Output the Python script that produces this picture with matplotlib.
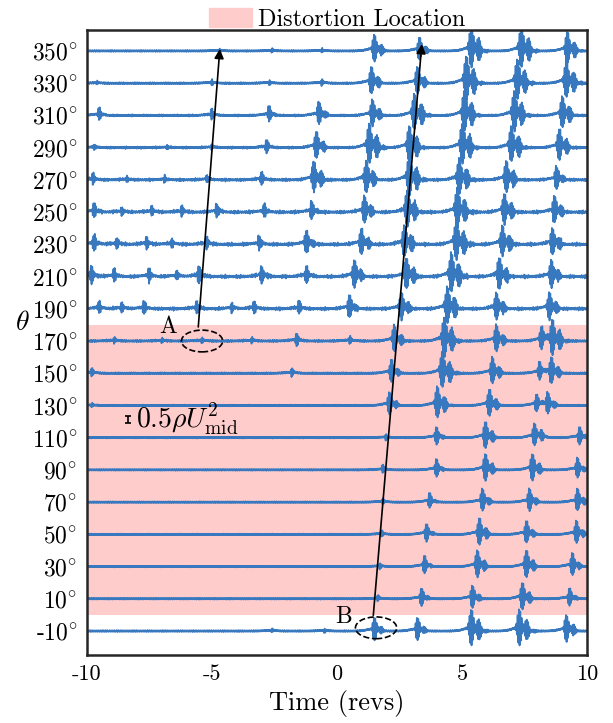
import numpy as np
import matplotlib
matplotlib.use('Agg')
import matplotlib.pyplot as plt
from matplotlib.patches import Ellipse, Patch

plt.rcParams['font.family'] = ['cmr10', 'DejaVu Serif']
plt.rcParams['mathtext.fontset'] = 'cm'
plt.rcParams['axes.unicode_minus'] = False

# sensor angles (deg) and burst events: (time in revs, half amplitude in deg units)
theta = [-10, 10, 30, 50, 70, 90, 110, 130, 150, 170, 190, 210, 230, 250, 270, 290, 310, 330, 350]

events_t = [
    [-2.6, -0.5, 1.52, 3.24, 5.4, 7.32, 9.2],
    [1.64, 3.4, 5.44, 7.44, 9.32],
    [1.72, 3.52, 5.64, 7.6, 9.44],
    [1.8, 3.6, 5.72, 7.6, 9.6],
    [1.84, 3.72, 5.84, 7.72, 9.64],
    [1.84, 4.0, 5.96, 7.84, 9.64],
    [1.96, 4.0, 5.96, 7.92, 8.2, 9.72],
    [-9.8, 2.12, 4.04, 6.12, 8.0, 8.45],
    [-9.8, -1.8, 2.2, 4.24, 6.24, 8.12, 8.6],
    [-8.9, -7.0, -5.4, -3.4, -1.6, 0.52, 2.32, 4.32, 6.4, 8.2, 8.64],
    [-9.5, -8.6, -7.7, -5.6, -4.2, -3.3, -1.5, 0.52, 2.6, 4.44, 6.4, 8.52],
    [-9.8, -8.9, -7.5, -6.4, -5.5, -3.0, -1.2, 0.72, 2.8, 4.6, 6.52, 8.6],
    [-9.7, -8.8, -7.6, -6.6, -5.2, -3.1, -1.2, 1.0, 2.72, 4.8, 6.64, 8.64],
    [-9.7, -8.6, -7.4, -6.2, -4.8, -2.9, -1.0, 1.12, 2.84, 4.84, 6.72, 8.72],
    [-9.75, -8.4, -6.9, -5.2, -3.0, -0.9, 1.2, 2.92, 4.92, 6.8, 8.8],
    [-9.7, -6.8, -5.0, -2.8, -0.8, 1.32, 2.92, 5.04, 7.0, 8.92],
    [-9.5, -5.0, -2.7, -0.7, 1.44, 3.12, 5.12, 7.12, 9.04],
    [-9.6, -5.0, -2.7, -0.6, 1.4, 3.24, 5.2, 7.24, 9.2],
    [-4.7, -2.6, -0.6, 1.52, 3.32, 5.4, 7.4, 9.24],
]

events_a = [
    [1, 1, 5, 5, 8, 8, 6],
    [1.5, 4, 5, 6, 4],
    [1.5, 4, 6, 6, 5],
    [1.5, 4, 6, 5, 5],
    [1.5, 3.5, 5, 5, 5],
    [2, 4, 6, 6, 4.5],
    [1.5, 4, 6, 5, 3, 4],
    [1, 5, 7, 6, 4, 5],
    [2, 2, 5, 8, 6, 4, 6],
    [1.5, 1.2, 1.5, 1.5, 3, 2, 6, 9, 6, 5, 8],
    [3, 2.5, 3, 3, 2.5, 3, 3, 5, 6, 8, 6, 6],
    [4, 3, 3, 2.5, 4, 4, 4, 6, 7, 9, 7, 6],
    [3.5, 2.5, 3, 2.5, 3, 3, 5, 6, 7, 9, 7, 6],
    [3.5, 2, 2.5, 2.5, 3, 3, 4, 6, 8, 9, 7, 6],
    [2.5, 1.5, 1.5, 2, 3, 7, 7, 9, 8, 7, 5],
    [1.5, 1.2, 1.5, 3, 6, 9, 8, 9, 8, 7],
    [3, 2.5, 3.5, 5, 6, 8, 9, 9, 7],
    [0.8, 1.5, 1.2, 1.5, 6, 6, 10, 9, 8],
    [1, 1, 1, 6, 5, 9, 9, 7],
]

# baseline roughness of each trace (deg units)
fuzz = [0.3, 0.25, 0.25, 0.25, 0.25, 0.25, 0.25, 0.3, 0.4, 0.6, 1.0, 1.1, 1.1, 1.0, 0.8, 0.6, 0.5, 0.4, 0.3]

scale_bar = 4.5   # height of 0.5 rho U^2 in deg units

line_color = '#3778bf'
shade_color = '#ffcccc'

t = np.linspace(-10, 10, 10001)


def burst(t, t0, a):
    # small events are short spikes, large ones are wide packets
    w = 0.03 + 0.34 * min(a, 8) / 8
    dt = t - t0
    # sharp onset on the left, slower decay on the right
    env = np.where(dt < 0, np.exp(-(dt / (0.5 * w)) ** 4), np.exp(-(dt / w) ** 2))
    osc = np.sin(2 * np.pi * 19 * dt + 0.8) * (0.6 + 0.4 * np.cos(2 * np.pi * 3.1 * dt + 0.6))
    rise = np.where(dt < 0, np.exp(-(dt / 0.4) ** 2), np.exp(-(dt / 0.25) ** 2))
    return 1.4 * a * env * osc + 0.3 * a * rise


fig = plt.figure(figsize=(6.13, 7.23), dpi=100)
ax = fig.add_axes([0.142, 0.094, 0.8157, 0.8645])

ax.axhspan(0, 180, color=shade_color, lw=0, zorder=0)

for i, th in enumerate(theta):
    p = fuzz[i] * (0.6 * np.sin(2 * np.pi * 11.3 * t + i) + 0.4 * np.sin(2 * np.pi * 17.9 * t + 3 * i)) \
        * (0.3 + 0.7 * np.sin(2 * np.pi * 0.83 * t + 2 * i) ** 2) \
        + 0.25 * np.sin(2 * np.pi * 43.1 * t + i)
    for t0, a in zip(events_t[i], events_a[i]):
        p = p + burst(t, t0, a)
    ax.plot(t, th + p, color=line_color, lw=1.3, zorder=2)

# propagation arrows
ax.annotate('', xy=(-4.68, 353), xytext=(-5.56, 177),
            arrowprops=dict(arrowstyle='-|>', color='black', lw=1.2, mutation_scale=14), zorder=5)
ax.annotate('', xy=(3.4, 356), xytext=(1.44, -2),
            arrowprops=dict(arrowstyle='-|>', color='black', lw=1.2, mutation_scale=14), zorder=5)
ax.add_patch(Ellipse((-5.4, 170), 1.65, 13.5, fill=False, ls='--', lw=1.2, ec='black', zorder=4))
ax.add_patch(Ellipse((1.56, -8), 1.65, 13.5, fill=False, ls='--', lw=1.2, ec='black', zorder=4))
ax.text(-6.75, 178.5, 'A', fontsize=17, ha='center', va='center')
ax.text(0.25, -1.5, 'B', fontsize=17, ha='center', va='center')

# pressure scale bar
ax.errorbar([-8.36], [121.5], yerr=scale_bar / 2, color='black', lw=1.2, capsize=2.5, capthick=1.2)
ax.text(-8.05, 121.5, r'$0.5\rho U^2_\mathrm{mid}$', fontsize=20, va='center', ha='left')

ax.set_xlim(-10, 10)
ax.set_ylim(-24.9, 363)
ax.set_xticks([-10, -5, 0, 5, 10])
ax.set_xticklabels(['-10', '-5', '0', '5', '10'])
ax.set_yticks(theta)
ax.set_yticklabels([(r'$%d^{\circ}$' % th) if th >= 0 else (r'$\text{-}%d^{\circ}$' % -th) for th in theta])
ax.tick_params(length=0, labelsize=16, pad=7)
ax.tick_params(axis='y', labelsize=17)
ax.set_xlabel('Time (revs)', fontsize=19, labelpad=4)
ax.text(-12.6, 181, r'$\theta$', fontsize=20, ha='center', va='center')

for s in ax.spines.values():
    s.set_linewidth(1.8)
    s.set_color('#262626')

ax.legend(handles=[Patch(color=shade_color, label='Distortion Location')],
          loc='lower center', bbox_to_anchor=(0.5, 0.995), frameon=False, fontsize=17.5,
          handlelength=1.75, handleheight=0.85, borderaxespad=0, borderpad=0.1, handletextpad=0.25)

fig.savefig('out.png', dpi=100)
